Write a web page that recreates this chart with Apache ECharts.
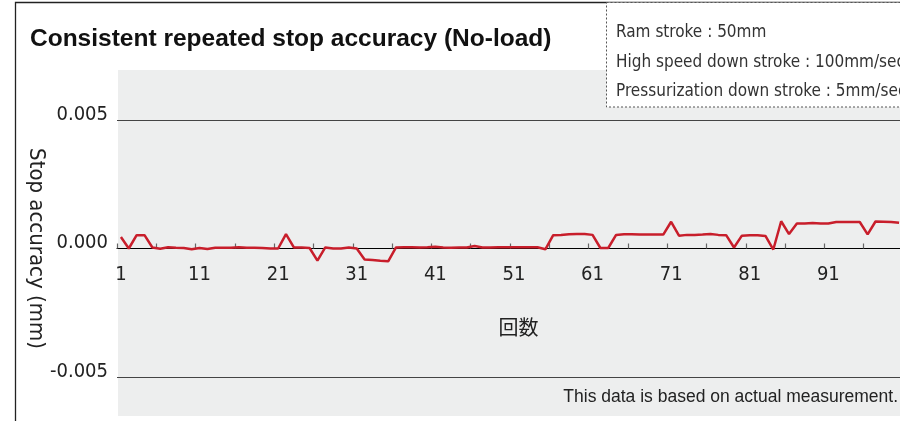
<!DOCTYPE html>
<html>
<head>
<meta charset="utf-8">
<script src="https://cdn.jsdelivr.net/npm/echarts@6/dist/echarts.min.js"></script>
<style>
html,body{margin:0;padding:0;background:#fff;overflow:hidden;}
#chart{width:900px;height:421px;}
</style>
</head>
<body>
<div id="chart"></div>
<script>
// ---- data ----
const categories = [
  1,2,3,4,5,6,7,8,9,10,11,12,13,14,15,16,17,18,19,20,
  21,22,23,24,25,26,27,28,29,30,31,32,33,34,35,36,37,38,39,40,
  41,42,43,44,45,46,47,48,49,50,51,52,53,54,55,56,57,58,59,60,
  61,62,63,64,65,66,67,68,69,70,71,72,73,74,75,76,77,78,79,80,
  81,82,83,84,85,86,87,88,89,90,91,92,93,94,95,96,97,98,99,100
];
const stopAccuracy = [
  0.00045, 0.00000, 0.00052, 0.00052, 0.00004, -0.00001, 0.00005, 0.00003, 0.00002, -0.00003,
  0.00002, -0.00002, 0.00003, 0.00003, 0.00003, 0.00005, 0.00003, 0.00003, 0.00002, 0.00000,
  0.00000, 0.00056, 0.00004, 0.00004, 0.00002, -0.00047, 0.00004, 0.00000, 0.00000, 0.00004,
  0.00000, -0.00043, -0.00045, -0.00048, -0.00050, 0.00004, 0.00005, 0.00005, 0.00004, 0.00005,
  0.00007, 0.00004, 0.00003, 0.00004, 0.00004, 0.00010, 0.00004, 0.00004, 0.00005, 0.00005,
  0.00005, 0.00005, 0.00005, 0.00005, -0.00003, 0.00052, 0.00053, 0.00055, 0.00056, 0.00056,
  0.00053, 0.00002, 0.00002, 0.00053, 0.00055, 0.00055, 0.00054, 0.00054, 0.00054, 0.00054,
  0.00104, 0.00050, 0.00053, 0.00053, 0.00054, 0.00056, 0.00053, 0.00052, 0.00004, 0.00050,
  0.00052, 0.00052, 0.00049, -0.00004, 0.00106, 0.00056, 0.00097, 0.00097, 0.00099, 0.00097,
  0.00097, 0.00103, 0.00103, 0.00103, 0.00103, 0.00055, 0.00105, 0.00104, 0.00103, 0.00100
];
const yTicks = [-0.005, 0.000, 0.005];
const titleText = 'Consistent repeated stop accuracy (No-load)';
const conditionLines = [
  'Ram stroke : 50mm',
  'High speed down stroke : 100mm/sec',
  'Pressurization down stroke : 5mm/sec'
];
const xName = '回数';
const yName = 'Stop accuracy (mm)';
const footnote = 'This data is based on actual measurement.';

// ---- chart ----
const narrow = '"Liberation Sans Narrow", "DejaVu Sans Condensed", "Liberation Sans", sans-serif';
const chart = echarts.init(document.getElementById('chart'), null, {renderer: 'canvas'});

const graphics = [
  {type: 'rect', z: -10, silent: true,
   shape: {x: 118, y: 70, width: 800, height: 346},
   style: {fill: '#edeeee'}},
  {type: 'rect', z: 5, silent: true,
   shape: {x: 15.5, y: 2.5, width: 1000, height: 1000},
   style: {fill: 'none', stroke: '#222', lineWidth: 1.3}},
  {type: 'rect', z: 5, silent: true,
   shape: {x: 606.5, y: 2.5, width: 400, height: 104.5},
   style: {fill: '#fff', stroke: '#555', lineWidth: 1, lineDash: [2, 2]}},
  {type: 'text', z: 6, left: 30, top: 27,
   style: {text: titleText, fill: '#111', font: 'bold 24.5px "Liberation Sans", Arial, sans-serif'}},
  {type: 'text', z: 6, right: 2, top: 388,
   style: {text: footnote, fill: '#222', font: '17.5px "Liberation Sans", Arial, sans-serif', textAlign: 'right'}}
];
conditionLines.forEach(function (t, i) {
  graphics.push({type: 'text', z: 6, left: 616, top: 24.5 + i * 29.5,
    style: {text: t, fill: '#333', font: '17px ' + narrow}});
});

chart.setOption({
  animation: false,
  backgroundColor: '#ffffff',
  graphic: graphics,
  grid: {left: 117, right: -3, top: 120, bottom: 44, containLabel: false, outerBoundsMode: 'none'},
  xAxis: {
    type: 'category',
    data: categories,
    boundaryGap: true,
    position: 'bottom',
    offset: -128.5,
    axisLine: {onZero: false, lineStyle: {color: '#000', width: 1.2}},
    axisTick: {show: true, inside: true, length: 5, interval: 4, lineStyle: {color: '#666', width: 1.2}},
    axisLabel: {interval: 9, margin: 16, color: '#222', fontSize: 20, fontFamily: narrow},
    name: xName,
    nameLocation: 'middle',
    nameGap: 69,
    nameMoveOverlap: false,
    nameTextStyle: {fontSize: 20, color: '#222', fontFamily: '"Noto Sans CJK JP", sans-serif', padding: [0, 0, 0, 17]}
  },
  yAxis: {
    type: 'value',
    min: yTicks[0],
    max: yTicks[yTicks.length - 1],
    interval: 0.005,
    axisLine: {show: false},
    axisTick: {show: false},
    splitLine: {show: true, lineStyle: {color: '#444', width: 1}},
    axisLabel: {
      margin: 9, color: '#222', fontSize: 20, fontFamily: narrow,
      verticalAlign: 'bottom', lineHeight: 11,
      formatter: function (v) { return v.toFixed(3); }
    },
    name: yName,
    nameLocation: 'middle',
    nameRotate: -90,
    nameGap: 70,
    nameMoveOverlap: false,
    nameTextStyle: {fontSize: 22, color: '#222', fontFamily: narrow}
  },
  series: [{
    type: 'line',
    data: stopAccuracy,
    symbol: 'none',
    smooth: false,
    lineStyle: {color: '#c81e2b', width: 2.5},
    z: 3
  }]
});
</script>
</body>
</html>
